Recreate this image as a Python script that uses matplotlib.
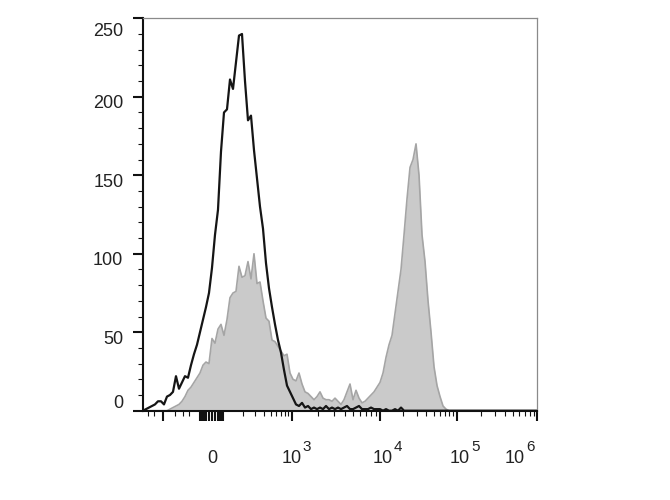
import numpy as np
import matplotlib.pyplot as plt

plt.rcParams['font.family'] = ['Liberation Sans', 'DejaVu Sans']

# biexponential display: data value -> axis position (cytometer display units)
AXIS_VALUES = [-1e6, -2500, -1000, -100, 0, 100, 1000, 1e4, 1e5, 1e6, 1e8]
AXIS_POS = [-300, 0, 20.3, 57, 69, 80, 148.7, 237, 313.7, 394.3, 555.5]
WIDTH_BASIS = 50.0
U_ANCH = np.arcsinh(np.array(AXIS_VALUES) / WIDTH_BASIS)

# histogram counts, one per display channel (132 channels across the axis)
n_channels = 132
channel_step = 3.0

isotype_counts = [0, 1, 2, 3, 4, 6, 6, 4, 9, 10,
                  12, 22, 14, 18, 22, 21, 29, 36, 42, 50,
                  58, 66, 75, 91, 112, 128, 165, 190, 192, 211,
                  205, 222, 239, 240, 210, 185, 188, 166, 148, 130,
                  116, 94, 78, 66, 55, 45, 37, 26, 16, 12,
                  8, 4, 3, 5, 2, 3, 1, 2, 1, 2,
                  1, 3, 1, 2, 1, 2, 1, 2, 3, 1,
                  1, 2, 3, 1, 1, 1, 2, 1, 1, 1,
                  0, 1, 0, 0, 1, 0, 2, 0] + [0] * 44

stained_counts = [0] * 9 + [1, 2, 3, 4, 6, 9, 13, 15, 18, 21,
                            24, 29, 31, 30, 46, 43, 52, 55, 48, 58,
                            72, 75, 76, 92, 85, 86, 95, 84, 100, 81,
                            82, 70, 59, 57, 45, 44, 41, 38, 35, 36,
                            24, 20, 19, 24, 17, 12, 11, 9, 7, 9,
                            12, 8, 7, 7, 6, 8, 6, 4, 7, 12,
                            17, 7, 13, 8, 5, 6, 8, 10, 12, 15,
                            18, 24, 34, 42, 48, 62, 76, 90, 112, 135,
                            155, 160, 170, 150, 112, 95, 70, 50, 28, 16,
                            9, 3, 1] + [0] * 30

y_major = [0, 50, 100, 150, 200, 250]
x_decades = [3, 4, 5, 6]


def forward(x):
    return np.interp(np.arcsinh(np.asarray(x, dtype=float) / WIDTH_BASIS), U_ANCH, AXIS_POS)


def inverse(p):
    return WIDTH_BASIS * np.sinh(np.interp(np.asarray(p, dtype=float), AXIS_POS, U_ANCH))


channel_x = inverse(np.arange(n_channels) * channel_step)

fig = plt.figure(figsize=(6.7, 5), dpi=100)
ax = fig.add_axes([0.2134, 0.1786, 0.5886, 0.7848])
ax.set_xscale('function', functions=(forward, inverse))

ax.fill_between(channel_x, stained_counts, color='#cacaca', lw=0)
ax.plot(channel_x, stained_counts, color='#a5a5a5', lw=1.2)
ax.plot(channel_x, isotype_counts, color='#151515', lw=1.6)

ax.set_xlim(inverse(0), inverse(394.3))
ax.set_ylim(0, 250)

# ticks
x_major = [-1000] + list(range(-100, 101, 20)) + [1e3, 1e4, 1e5, 1e6]
x_minor = [-2000, -1500, -500, -300, -200]
for dec in [100, 1000, 10000, 100000]:
    x_minor += [m * dec for m in range(2, 10)]
ax.set_xticks(x_major)
ax.set_xticks(x_minor, minor=True)
ax.set_yticks(y_major)
ax.set_yticks(range(0, 251, 10), minor=True)
ax.tick_params(which='major', length=7, width=1.5, color='#111111',
               labelbottom=False, labelleft=False)
ax.tick_params(which='minor', length=3.5, width=0.8, color='#111111')

for side in ['left', 'bottom']:
    ax.spines[side].set_color('#111111')
    ax.spines[side].set_linewidth(1.5)
for side in ['top', 'right']:
    ax.spines[side].set_color('#8a8a8a')
    ax.spines[side].set_linewidth(0.9)

# y labels (the cytometry software nudges them off the ticks)
for v in y_major:
    dy = -5.0
    if v == 0:
        dy = 5.0
    elif v == 250:
        dy = -9.4
    ax.annotate(str(v), xy=(0, v), xycoords=('axes fraction', 'data'),
                xytext=(-14.2, dy), textcoords='offset points',
                ha='right', va='center', fontsize=13, color='#222222')

# x labels
ax.annotate('0', xy=(0, 0), xycoords=('data', 'axes fraction'),
            xytext=(0, -38), textcoords='offset points',
            ha='center', va='baseline', fontsize=13, color='#222222')
label_shift = {3: 0, 4: 1.8, 5: 2.4, 6: -16}
for e in x_decades:
    dx = label_shift[e]
    ax.annotate('10', xy=(10.0 ** e, 0), xycoords=('data', 'axes fraction'),
                xytext=(dx, -38), textcoords='offset points',
                ha='center', va='baseline', fontsize=13, color='#222222')
    ax.annotate(str(e), xy=(10.0 ** e, 0), xycoords=('data', 'axes fraction'),
                xytext=(dx + 8.1, -29), textcoords='offset points',
                ha='left', va='baseline', fontsize=11, color='#222222')

fig.savefig('out.png', dpi=100)
